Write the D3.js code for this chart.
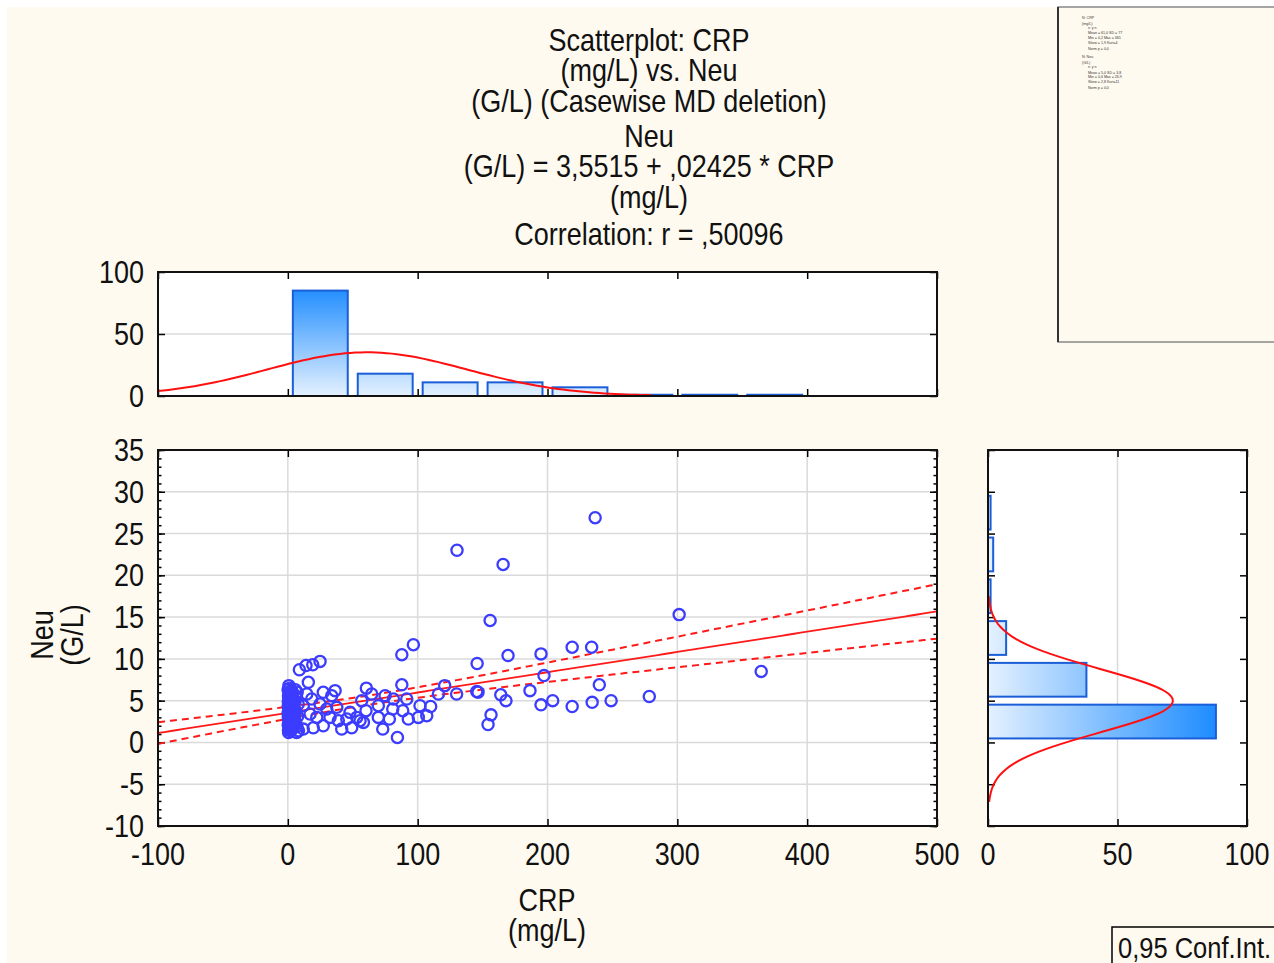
<!DOCTYPE html>
<html>
<head>
<meta charset="utf-8">
<script src="https://cdn.jsdelivr.net/npm/d3@7.9.0/dist/d3.min.js"></script>
<style>
  body { margin: 0; background: #fff; }
  svg { display: block; font-family: "Liberation Sans", Arial, sans-serif; }
</style>
</head>
<body>
<svg id="chart" width="1274" height="963"></svg>
<script>
// ---- data ----
// scatter points: [CRP (mg/L), Neu (G/L)]
const points = [
  // dense cluster near CRP 0
  [0.5,1.5],[1.2,2.0],[0.8,2.6],[2.0,1.8],[3.1,2.2],[0.4,3.0],[1.6,3.3],[2.7,2.9],[4.2,2.5],[0.9,3.8],
  [2.2,4.0],[3.5,3.6],[0.3,4.3],[1.4,4.6],[2.9,4.4],[4.8,4.1],[0.7,5.0],[1.9,5.3],[3.3,5.0],[0.5,5.6],
  [1.1,6.0],[2.4,5.8],[0.2,6.3],[1.5,6.5],[3.8,5.9],[5.2,3.2],[6.0,2.4],[5.5,4.8],[0.6,1.2],[2.5,1.4],
  [4.0,1.7],[1.0,2.3],[3.7,3.0],[0.2,3.5],[2.3,3.4],[1.8,2.7],[4.4,3.9],[0.4,4.8],[2.6,4.9],[1.3,5.5],
  [3.0,6.2],[6.5,5.5],[5.8,6.3],[0.8,6.8],[7.0,1.9],[0.3,2.1],[1.7,1.6],[3.4,4.2],[4.6,5.2],[2.1,6.1],
  [6.2,3.7],[0.9,4.1],[5.0,2.0],[2.8,2.4],[1.5,3.9],[0.6,5.3],[3.9,4.7],[7.5,3.1],[8.0,4.6],[7.2,6.0],
  [8.2,1.4],[6.8,1.2],
  // CRP 8-50
  [8.9,8.7],[14.0,9.2],[19.2,9.3],[24.8,9.7],[15.8,7.2],[27.3,6.0],[36.4,6.2],[33.8,5.6],[14.6,5.8],
  [11.9,4.4],[11.9,1.6],[19.6,1.75],[27.3,2.0],[38.9,2.6],[41.5,1.6],[49.2,1.75],[32.5,3.0],[22.3,3.0],
  [17.1,3.4],[30.0,4.0],[37.7,4.2],[47.9,3.6],[24.8,4.6],[18.4,5.2],[45.4,2.8],
  // CRP 50-100
  [53.1,3.0],[55.6,2.6],[60.5,6.5],[64.6,5.8],[56.9,5.0],[60.2,3.8],[58.2,2.4],[74.9,5.6],[81.3,5.2],
  [69.7,4.4],[80.8,4.0],[69.7,3.0],[78.2,2.8],[73.1,1.6],[84.4,0.6],[87.8,10.5],[87.8,6.9],[91.6,5.2],
  [88.5,3.8],[92.8,2.8],[96.7,11.7],
  // CRP 100-150
  [101.8,4.4],[110.0,4.3],[107.0,3.2],[100.5,3.0],[116.0,5.8],[120.8,6.8],[130.0,5.8],[130.3,23.0],
  [145.8,9.45],[145.5,6.1],[146.5,6.0],
  // CRP 150-200
  [154.2,2.15],[155.8,14.6],[156.5,3.3],[164.0,5.7],[165.8,21.3],[168.0,5.0],[169.6,10.4],[186.5,6.2],
  [195.0,10.6],[195.0,4.5],[197.3,8.0],
  // CRP 200+
  [204.0,5.0],[219.0,11.4],[219.0,4.3],[234.0,11.4],[234.4,4.8],[236.7,26.9],[239.9,6.9],[249.0,5.0],
  [278.4,5.5],[301.4,15.3],[364.6,8.5]
];

// histogram of CRP (top) and Neu (right)
const crpBinEdges = [0, 50, 100, 150, 200, 250, 300, 350, 400];
const crpCounts   = [85, 18, 11, 11, 7, 1, 1, 1];
const neuBinEdges = [0, 5, 10, 15, 20, 25, 30];
const neuCounts   = [88, 38, 7, 1, 2, 1];

// fit statistics
const intercept = 3.5515, slope = 0.02425, corr = 0.50096;
const nCases = 136;
const crpMean = 61, crpSd = 77;
const neuMean = 5.0, neuSd = 3.8;
const tCrit = 1.978;

// axis ticks
const crpTicks = [-100, 0, 100, 200, 300, 400, 500];
const neuTicks = [-10, -5, 0, 5, 10, 15, 20, 25, 30, 35];
const countTicks = [0, 50, 100];

const titleLines = [
  "Scatterplot: CRP", "(mg/L) vs. Neu", "(G/L) (Casewise MD deletion)",
  "Neu", "(G/L) = 3,5515 + ,02425 * CRP", "(mg/L)", "Correlation: r = ,50096"
];

// ---- drawing ----
const W = 1274, H = 963;
const FONT = 27, STRETCH = 1.15;
const svg = d3.select('#chart');

svg.append('rect').attr('width', W).attr('height', H).attr('fill', '#fff');
svg.append('rect').attr('x', 7).attr('y', 7).attr('width', W - 7).attr('height', H - 7).attr('fill', '#fffaef');

function label(x, y, txt, anchor = 'middle', rot = 0, size = FONT) {
  return svg.append('text')
    .attr('transform', `translate(${x},${y}) rotate(${rot}) scale(1,${STRETCH})`)
    .attr('text-anchor', anchor)
    .attr('font-size', size)
    .attr('fill', '#111')
    .text(txt);
}

// scales
const x  = d3.scaleLinear([-100, 500], [158, 937]);
const y  = d3.scaleLinear([-10, 35], [826, 450]);
const hy = d3.scaleLinear([0, 100], [396, 272]);
const hx = d3.scaleLinear([0, 100], [988, 1247]);

// gradients
const defs = svg.append('defs');
const gv = defs.append('linearGradient').attr('id', 'gradV')
  .attr('gradientUnits', 'userSpaceOnUse')
  .attr('x1', 0).attr('x2', 0).attr('y1', hy(0)).attr('y2', hy(88));
gv.append('stop').attr('offset', 0).attr('stop-color', '#e4f1ff');
gv.append('stop').attr('offset', 1).attr('stop-color', '#1e8cff');
const gh = defs.append('linearGradient').attr('id', 'gradH')
  .attr('gradientUnits', 'userSpaceOnUse')
  .attr('y1', 0).attr('y2', 0).attr('x1', hx(0)).attr('x2', hx(88));
gh.append('stop').attr('offset', 0).attr('stop-color', '#e4f1ff');
gh.append('stop').attr('offset', 1).attr('stop-color', '#1e8cff');

function clip(id, x0, y0, w, h) {
  defs.append('clipPath').attr('id', id).append('rect')
    .attr('x', x0).attr('y', y0).attr('width', w).attr('height', h);
}
clip('clipS', 158, 450, 779, 376);
clip('clipT', 158, 272, 779, 124);
clip('clipR', 988, 450, 259, 376);

// plot backgrounds
svg.append('rect').attr('x', 158).attr('y', 450).attr('width', 779).attr('height', 376).attr('fill', '#fff');
svg.append('rect').attr('x', 158).attr('y', 272).attr('width', 779).attr('height', 124).attr('fill', '#fff');
svg.append('rect').attr('x', 988).attr('y', 450).attr('width', 259).attr('height', 376).attr('fill', '#fff');

// grids
const grid = svg.append('g').attr('stroke', '#dadada').attr('stroke-width', 1.5);
crpTicks.slice(1, -1).forEach(v => grid.append('line').attr('x1', x(v)).attr('x2', x(v)).attr('y1', 450).attr('y2', 826));
neuTicks.slice(1, -1).forEach(v => grid.append('line').attr('y1', y(v)).attr('y2', y(v)).attr('x1', 158).attr('x2', 937));
grid.append('line').attr('x1', 158).attr('x2', 937).attr('y1', hy(50)).attr('y2', hy(50));
grid.append('line').attr('x1', hx(50)).attr('x2', hx(50)).attr('y1', 450).attr('y2', 826);

// ticks (inside the frames)
function ticks(axis, translate, values, len) {
  const g = svg.append('g').attr('transform', translate)
    .call(axis.tickValues(values).tickSizeInner(-len).tickSizeOuter(0).tickFormat(''));
  g.select('.domain').remove();
  g.selectAll('line').attr('stroke', '#000').attr('stroke-width', 1.5);
}
const minorNeu = d3.range(-10, 36, 1);
ticks(d3.axisLeft(y), 'translate(158,0)', neuTicks, 7);
ticks(d3.axisLeft(y), 'translate(158,0)', minorNeu, 3.5);
ticks(d3.axisRight(y), 'translate(937,0)', neuTicks, 7);
ticks(d3.axisRight(y), 'translate(937,0)', minorNeu, 3.5);
ticks(d3.axisBottom(x), 'translate(0,826)', crpTicks, 7);
ticks(d3.axisTop(x), 'translate(0,450)', crpTicks, 7);
ticks(d3.axisBottom(x), 'translate(0,396)', crpTicks, 7);
ticks(d3.axisTop(x), 'translate(0,272)', crpTicks, 7);
ticks(d3.axisLeft(hy), 'translate(158,0)', countTicks, 7);
ticks(d3.axisRight(hy), 'translate(937,0)', countTicks, 7);
ticks(d3.axisLeft(y), 'translate(988,0)', neuTicks, 7);
ticks(d3.axisRight(y), 'translate(1247,0)', neuTicks, 7);
ticks(d3.axisBottom(hx), 'translate(0,826)', countTicks, 7);
ticks(d3.axisTop(hx), 'translate(0,450)', countTicks, 7);

// top histogram
const topG = svg.append('g').attr('clip-path', 'url(#clipT)');
crpCounts.forEach((c, i) => {
  const x0 = x(crpBinEdges[i]) + 5, x1 = x(crpBinEdges[i + 1]) - 5;
  topG.append('rect')
    .attr('x', x0).attr('width', x1 - x0)
    .attr('y', hy(c)).attr('height', hy(0) - hy(c))
    .attr('fill', 'url(#gradV)').attr('stroke', '#1a5ed8').attr('stroke-width', 2);
});
const normal = (v, m, s) => Math.exp(-0.5 * ((v - m) / s) ** 2) / (s * Math.sqrt(2 * Math.PI));
const crpW = crpBinEdges[1] - crpBinEdges[0];
const topCurve = d3.range(-100, 281, 4).map(v => [x(v), hy(nCases * crpW * normal(v, crpMean, crpSd))]);
topG.append('path').attr('d', d3.line()(topCurve))
  .attr('fill', 'none').attr('stroke', '#ff1010').attr('stroke-width', 2);

// right histogram
const rightG = svg.append('g').attr('clip-path', 'url(#clipR)');
neuCounts.forEach((c, i) => {
  const y0 = y(neuBinEdges[i + 1]) + 4, y1 = y(neuBinEdges[i]) - 4;
  rightG.append('rect')
    .attr('x', hx(0)).attr('width', hx(c) - hx(0))
    .attr('y', y0).attr('height', y1 - y0)
    .attr('fill', 'url(#gradH)').attr('stroke', '#1a5ed8').attr('stroke-width', 2);
});
const neuW = neuBinEdges[1] - neuBinEdges[0];
const rightCurve = d3.range(-7.1, 17.5, 0.3).map(v => [hx(nCases * neuW * normal(v, neuMean, neuSd)), y(v)]);
rightG.append('path').attr('d', d3.line()(rightCurve))
  .attr('fill', 'none').attr('stroke', '#ff1010').attr('stroke-width', 2);

// scatter: regression line, confidence band, points
const sG = svg.append('g').attr('clip-path', 'url(#clipS)');
const resSd = neuSd * Math.sqrt(1 - corr * corr) * Math.sqrt((nCases - 1) / (nCases - 2));
const sxx = (nCases - 1) * crpSd * crpSd;
const fitY = v => intercept + slope * v;
const half = v => tCrit * resSd * Math.sqrt(1 / nCases + (v - crpMean) ** 2 / sxx);
const xs = d3.range(-100, 501, 5);
const line = d3.line();
sG.append('path').attr('d', line(xs.map(v => [x(v), y(fitY(v))])))
  .attr('fill', 'none').attr('stroke', '#ff1a1a').attr('stroke-width', 1.8);
[1, -1].forEach(sgn => {
  sG.append('path').attr('d', line(xs.map(v => [x(v), y(fitY(v) + sgn * half(v))])))
    .attr('fill', 'none').attr('stroke', '#ff1a1a').attr('stroke-width', 2)
    .attr('stroke-dasharray', '7,5');
});
sG.selectAll('circle').data(points).join('circle')
  .attr('cx', d => x(d[0])).attr('cy', d => y(d[1])).attr('r', 5.6)
  .attr('fill', 'none').attr('stroke', '#3c3cff').attr('stroke-width', 2.3);

// frames
const frame = svg.append('g').attr('fill', 'none').attr('stroke', '#111').attr('stroke-width', 2);
frame.append('rect').attr('x', 158).attr('y', 450).attr('width', 779).attr('height', 376);
frame.append('rect').attr('x', 158).attr('y', 272).attr('width', 779).attr('height', 124);
frame.append('rect').attr('x', 988).attr('y', 450).attr('width', 259).attr('height', 376);

// tick labels
crpTicks.forEach(v => label(x(v), 865, v));
neuTicks.forEach(v => label(144, y(v) + 11, v, 'end'));
countTicks.forEach(v => label(144, hy(v) + 11, v, 'end'));
countTicks.forEach(v => label(hx(v), 865, v));

// titles
const titleBase = [51, 81, 112, 147, 177, 208, 245];
titleLines.forEach((t, i) => label(649, titleBase[i], t));
label(547, 911, 'CRP');
label(547, 941, '(mg/L)');
label(53, 635, 'Neu', 'middle', -90);
label(83, 635, '(G/L)', 'middle', -90);

// legend panel (top right)
svg.append('rect').attr('x', 1058).attr('y', 7).attr('width', 220).attr('height', 335)
  .attr('fill', '#fffaef').attr('stroke', '#888').attr('stroke-width', 1.5);
svg.append('line').attr('x1', 1058).attr('x2', 1058).attr('y1', 7).attr('y2', 342)
  .attr('stroke', '#333').attr('stroke-width', 2);
const tiny = [
  [1082, 19, 'N: CRP'], [1082, 25, '(mg/L)'], [1088, 29, 'x: y n'], [1088, 33.5, 'Mean = 61,0 SD = 77'],
  [1088, 39, 'Min = 0,2 Max = 365'], [1088, 43.5, 'Skew = 1,9 Kurt=4'], [1088, 50, 'Norm p = 0,0'],
  [1082, 58, 'N: Neu'], [1082, 64, '(G/L)'], [1088, 68, 'x: y n'], [1088, 74, 'Mean = 5,0 SD = 3,8'],
  [1088, 78, 'Min = 0,6 Max = 26,9'], [1088, 82.5, 'Skew = 2,8 Kurt=11'], [1088, 89, 'Norm p = 0,0']
];
tiny.forEach(([tx, ty, t]) => svg.append('text').attr('x', tx).attr('y', ty)
  .attr('font-size', 3.6).attr('fill', '#333').text(t));

// confidence legend (bottom right)
svg.append('rect').attr('x', 1112).attr('y', 927).attr('width', 180).attr('height', 50)
  .attr('fill', '#fffaef').attr('stroke', '#000').attr('stroke-width', 1.5);
label(1118, 958, '0,95 Conf.Int.', 'start', 0, 25.5);
</script>
</body>
</html>
